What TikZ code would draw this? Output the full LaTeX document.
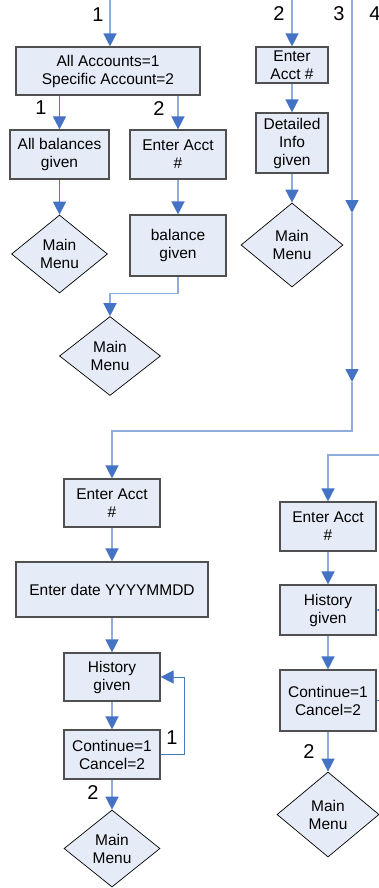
\documentclass[tikz,border=0pt]{standalone}
\usepackage{fontspec}
\setmainfont{Liberation Sans}
\usetikzlibrary{shapes.geometric,arrows.meta}
\definecolor{boxfill}{HTML}{E6ECF7}
\definecolor{boxline}{HTML}{505050}
\definecolor{linelight}{HTML}{8EADDB}
\definecolor{linedark}{HTML}{4A78C2}
\definecolor{tipblue}{HTML}{4472C4}
\tikzset{
  box/.style={draw=boxline, fill=boxfill, line width=1.2pt, align=center, inner sep=0pt,
    font=\fontsize{15.5}{18}\selectfont},
  dia/.style={diamond, draw=black, fill=boxfill, line width=0.7pt, align=center, inner sep=0pt,
    font=\fontsize{15.5}{18}\selectfont},
  conn/.style={draw=linelight, line width=1.5pt, -{Triangle[length=13pt,width=13pt,color=tipblue]}},
  conndark/.style={draw=linedark, line width=1pt, -{Triangle[length=13pt,width=13pt,color=tipblue]}},
  plain/.style={draw=linelight, line width=1.5pt},
  lbl/.style={font=\fontsize{20}{22}\selectfont, inner sep=0pt}
}
\begin{document}
\begin{tikzpicture}[x=1pt,y=-1pt]
\useasboundingbox (0,0) rectangle (379,888);
\clip (0,0) rectangle (379,888);
\fill[white] (0,0) rectangle (379,888);

% top-left branch
\node[box, minimum width=184pt, minimum height=48pt] (sel) at (108,71) {All Accounts=1\\Specific Account=2};
\node[box, minimum width=99pt, minimum height=49pt] (allbal) at (59.5,154.5) {All balances\\given};
\node[box, minimum width=96pt, minimum height=49pt] (enter1) at (178,154.5) {Enter Acct\\\#};
\node[dia, minimum width=96pt, minimum height=78pt] (mm1) at (59.5,254) {Main\\Menu};
\node[box, minimum width=96pt, minimum height=61pt] (balg) at (178,245.5) {balance\\given};
\node[dia, minimum width=101pt, minimum height=79pt] (mm2) at (110,356) {Main\\Menu};

% second branch
\node[box, minimum width=72pt, minimum height=36pt] (enter2) at (292,65) {Enter\\Acct \#};
\node[box, minimum width=72pt, minimum height=60pt] (detail) at (292,143) {Detailed\\Info\\given};
\node[dia, minimum width=102pt, minimum height=84pt] (mm3) at (292,245) {Main\\Menu};

% third branch
\node[box, minimum width=96pt, minimum height=48pt] (enter3) at (112,503) {Enter Acct\\\#};
\node[box, minimum width=192pt, minimum height=55pt] (date) at (112,589.5) {Enter date YYYYMMDD};
\node[box, minimum width=96pt, minimum height=48pt] (hist1) at (112,677) {History\\given};
\node[box, minimum width=96pt, minimum height=49pt] (cont1) at (112,754.5) {Continue=1\\Cancel=2};
\node[dia, minimum width=96pt, minimum height=77pt] (mm4) at (112,848.5) {Main\\Menu};

% fourth branch
\node[box, minimum width=96pt, minimum height=49pt] (enter4) at (328,526.5) {Enter Acct\\\#};
\node[box, minimum width=96pt, minimum height=50pt] (hist2) at (328,610) {History\\given};
\node[box, minimum width=96pt, minimum height=61pt] (cont2) at (328,700.5) {Continue=1\\Cancel=2};
\node[dia, minimum width=102pt, minimum height=85pt] (mm5) at (328,814.5) {Main\\Menu};

% entry coordinates
\coordinate (t1) at (110,0);
\coordinate (t2) at (292,0);
\coordinate (t3) at (352,0);
\coordinate (c3a) at (352,213);
\coordinate (c3b) at (352,382);
\coordinate (c3c) at (352,431);
\coordinate (t4) at (395,455);

% connectors
\draw[conn] (t1) -- (t1 |- sel.north);
\draw[conndark] (allbal.north |- sel.south) -- (allbal.north);
\draw[conn] (enter1.north |- sel.south) -- (enter1.north);
\draw[conndark] (allbal.south) -- (mm1.north);
\draw[conn] (enter1.south) -- (balg.north);
\draw[conn] (balg.south) -- ++(0,17) -| (mm2.north);

\draw[conn] (t2) -- (enter2.north);
\draw[conn] (enter2.south) -- (detail.north);
\draw[conn] (detail.south) -- (mm3.north);

\draw[conn] (t3) -- (c3a);
\draw[conn] (c3a) -- (c3b);
\draw[conn] (c3b) -- (c3c) -| (enter3.north);
\draw[conn] (enter3.south) -- (date.north);
\draw[conn] (date.south) -- (hist1.north);
\draw[conn] (hist1.south) -- (cont1.north);
\draw[conn] (cont1.south) -- (mm4.north);
\draw[conndark] (cont1.east) -- ++(24,0) |- (hist1.east);

\draw[conn] (t4) -| (enter4.north);
\draw[conn] (enter4.south) -- (hist2.north);
\draw[conn] (hist2.south) -- (cont2.north);
\draw[conn] (cont2.south) -- (mm5.north);
\draw[conndark] (cont2.east) -- ++(24,0) |- (hist2.east);

% labels
\node[lbl] (l1) at (98,15) {1};
\node[lbl] (l2) at (41,108) {1};
\node[lbl] (l3) at (159,109) {2};
\node[lbl] (l4) at (279,14) {2};
\node[lbl] (l5) at (339,14) {3};
\node[lbl] (l6) at (375,14) {4};
\node[lbl] (l7) at (172,738) {1};
\node[lbl] (l8) at (93,793) {2};
\node[lbl] (l9) at (309,752) {2};
\end{tikzpicture}
\end{document}
